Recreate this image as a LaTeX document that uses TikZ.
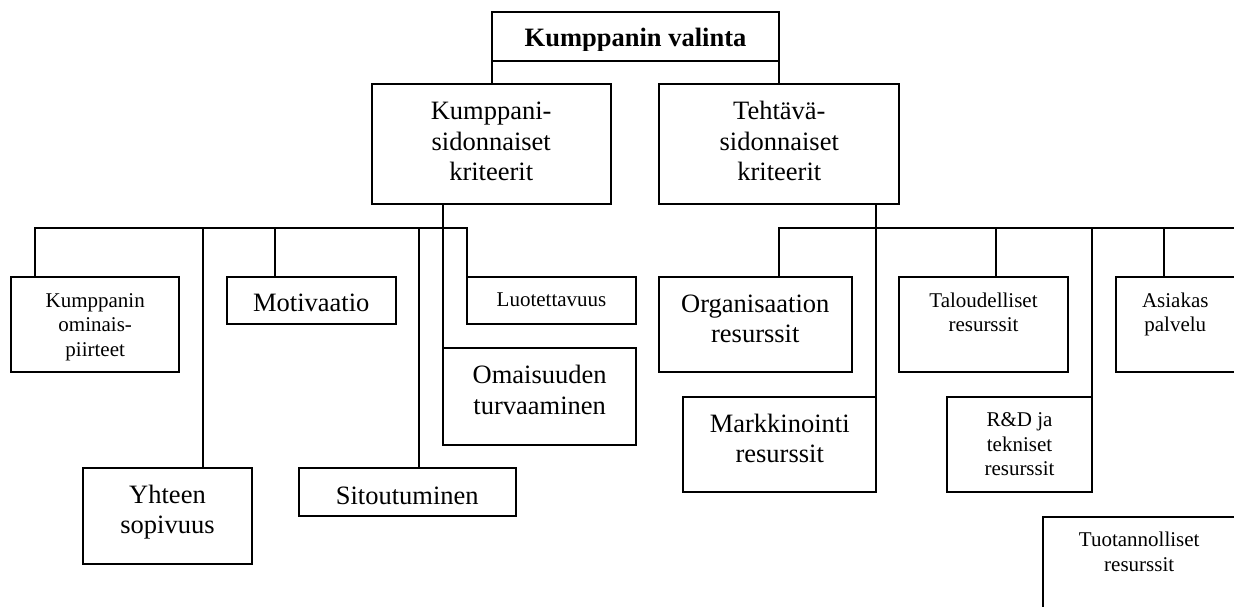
\documentclass[tikz,border=0pt]{standalone}
\usepackage{fontspec}
\setmainfont{Liberation Serif}
\begin{document}
\begin{tikzpicture}[x=1pt,y=-1pt,
  box/.style={draw, line width=1.8pt, inner sep=0pt, outer sep=0pt, anchor=north west},
  link/.style={draw, line width=1.8pt},
  big/.style={anchor=base, align=center, inner sep=0pt, font=\fontsize{26.5}{30.5}\selectfont},
  small/.style={anchor=base, align=center, inner sep=0pt, font=\fontsize{21}{24.5}\selectfont}]
\clip (0,0) rectangle (1234,606);
\fill[white] (0,0) rectangle (1234,606);

% boxes: corner at (x1,y1), size from (x2-x1, y2-y1)
\node[box, minimum width=287.3pt, minimum height=48.4pt] (top) at (491.7,12.3) {};
\node[box, minimum width=239pt, minimum height=119.7pt] (kump) at (371.7,84.3) {};
\node[box, minimum width=240pt, minimum height=119.7pt] (teht) at (659.3,84.3) {};
\node[box, minimum width=168.3pt, minimum height=95.6pt] (omin) at (11,276.7) {};
\node[box, minimum width=168.7pt, minimum height=47.6pt] (mot) at (227,276.7) {};
\node[box, minimum width=168.4pt, minimum height=47.3pt] (luot) at (467.3,276.7) {};
\node[box, minimum width=192.7pt, minimum height=96.7pt] (omai) at (443.3,348.3) {};
\node[box, minimum width=169.6pt, minimum height=96pt] (yht) at (82.7,468.3) {};
\node[box, minimum width=216.7pt, minimum height=47.7pt] (sit) at (299,468.3) {};
\node[box, minimum width=192.7pt, minimum height=95.3pt] (org) at (659,276.7) {};
\node[box, minimum width=192.7pt, minimum height=95.6pt] (mark) at (683.3,396.7) {};
\node[box, minimum width=168.4pt, minimum height=95.6pt] (tal) at (899.3,276.7) {};
\node[box, minimum width=144.4pt, minimum height=95.6pt] (rd) at (947.3,396.7) {};
\node[box, minimum width=120.3pt, minimum height=95.6pt] (asi) at (1115.7,276.7) {};
\node[box, minimum width=192.7pt, minimum height=110pt] (tuo) at (1043.3,516.7) {};

% texts (anchored at the baseline of the last line)
\begin{scope}
  \clip (491.7,12.3) rectangle (779,50);
  \node[big, font=\fontsize{26.5}{30.5}\selectfont\bfseries] (top-t) at (635.5,46.7) {Kumppanin valinta};
\end{scope}
\node[big] (kump-t) at (491.2,180.7) {Kumppani-\\sidonnaiset\\kriteerit};
\node[big] (teht-t) at (779.3,180.7) {Tehtävä-\\sidonnaiset\\kriteerit};
\node[small] (omin-t) at (95.2,356.3) {Kumppanin\\ominais-\\piirteet};
\node[big] (mot-t) at (311.3,311.7) {Motivaatio};
\node[small] (luot-t) at (551.5,306.7) {Luotettavuus};
\node[big] (omai-t) at (539.7,414.3) {Omaisuuden\\turvaaminen};
\node[big] (yht-t) at (167.5,533.5) {Yhteen\\sopivuus};
\node[big] (sit-t) at (407.3,504) {Sitoutuminen};
\node[big] (org-t) at (755.3,342.5) {Organisaation\\resurssit};
\node[big] (mark-t) at (779.7,462.7) {Markkinointi\\resurssit};
\node[small] (tal-t) at (983.5,331.5) {Taloudelliset\\resurssit};
\node[small] (rd-t) at (1019.5,475.5) {R\&D ja\\tekniset\\resurssit};
\node[small] (asi-t) at (1175.3,331.5) {Asiakas\\palvelu};
\node[small] (tuo-t) at (1139.2,571) {Tuotannolliset\\resurssit};

% junctions on the two buses
\coordinate (busL) at (35,228.3);
\coordinate (jY) at (203.3,228.3);
\coordinate (jM) at (275.3,228.3);
\coordinate (jS) at (419.3,228.3);
\coordinate (jO) at (779.3,228.3);
\coordinate (jT) at (996,228.3);
\coordinate (jA) at (1164,228.3);
\coordinate (busR) at (1240,228.3);

% top level
\draw[link] (top.south west) -- (top.south west |- kump.north);
\draw[link] (top.south east) -- (top.south east |- teht.north);

% partner-related branch
\draw[link] (kump.south -| omai.north west) -- (omai.north west);
\draw[link] (busL |- omin.north) -- (busL) -- (busL -| luot.north west) -- (luot.north west);
\draw[link] (jY) -- (jY |- yht.north);
\draw[link] (jM) -- (jM |- mot.north);
\draw[link] (jS) -- (jS |- sit.north);

% task-related branch
\draw[link] (teht.south -| mark.north east) -- (mark.north east);
\draw[link] (jO |- org.north) -- (jO) -- (busR);
\draw[link] (jT) -- (jT |- tal.north);
\draw[link] (rd.north east |- jO) -- (rd.north east);
\draw[link] (jA) -- (jA |- asi.north);
\end{tikzpicture}
\end{document}
